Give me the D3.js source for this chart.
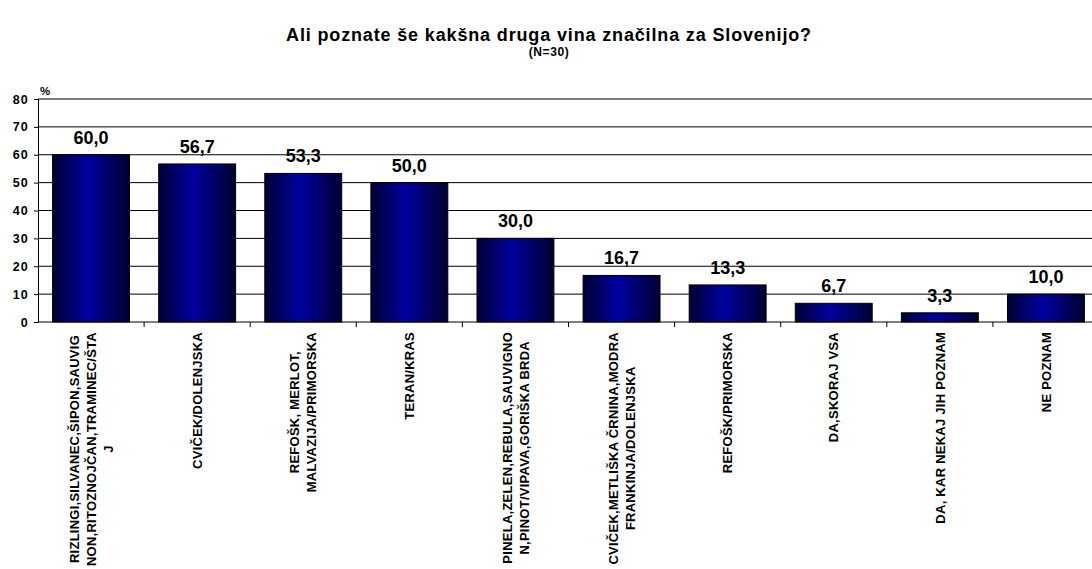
<!DOCTYPE html>
<html>
<head>
<meta charset="utf-8">
<script src="https://cdn.jsdelivr.net/npm/d3@7"></script>
<style>
  body { margin: 0; background: #fff; }
  svg { display: block; font-family: Arial, "Liberation Sans", sans-serif; }
</style>
</head>
<body>
<svg id="chart" width="1092" height="569"></svg>
<script>
const title = "Ali poznate še kakšna druga vina značilna za Slovenijo?";
const subtitle = "(N=30)";
const yUnit = "%";
const categories = [
  "RIZLINGI,SILVANEC,ŠIPON,SAUVIG\nNON,RITOZNOJČAN,TRAMINEC/ŠTA\nJ",
  "CVIČEK/DOLENJSKA",
  "REFOŠK, MERLOT,\nMALVAZIJA/PRIMORSKA",
  "TERAN/KRAS",
  "PINELA,ZELEN,REBULA,SAUVIGNO\nN,PINOT/VIPAVA,GORIŠKA BRDA",
  "CVIČEK,METLIŠKA ČRNINA,MODRA\nFRANKINJA/DOLENJSKA",
  "REFOŠK/PRIMORSKA",
  "DA,SKORAJ VSA",
  "DA, KAR NEKAJ JIH POZNAM",
  "NE POZNAM"
];
const values = [60.0, 56.7, 53.3, 50.0, 30.0, 16.7, 13.3, 6.7, 3.3, 10.0];
const yTicks = [0, 10, 20, 30, 40, 50, 60, 70, 80];

const svg = d3.select("#chart");
const pLeft = 38, pRight = 1099, pTop = 99, pBottom = 322;

const x = d3.scaleBand().domain(d3.range(categories.length)).range([pLeft, pRight])
  .paddingInner(0.275).paddingOuter(0.1375);
const y = d3.scaleLinear().domain([0, 80]).range([pBottom, pTop]);

// gradient
const defs = svg.append("defs");
const grad = defs.append("linearGradient").attr("id", "barGrad")
  .attr("x1", "0").attr("x2", "1").attr("y1", "0").attr("y2", "0");
grad.append("stop").attr("offset", "0%").attr("stop-color", "#000033");
grad.append("stop").attr("offset", "45%").attr("stop-color", "#0000a0");
grad.append("stop").attr("offset", "100%").attr("stop-color", "#000030");

// gridlines
svg.append("g").selectAll("line").data(yTicks.filter(d => d > 0)).join("line")
  .attr("x1", pLeft).attr("x2", 1092)
  .attr("y1", d => y(d)).attr("y2", d => y(d))
  .attr("stroke", "#000").attr("stroke-width", 1);

// bars
svg.append("g").selectAll("rect").data(values).join("rect")
  .attr("x", (d, i) => x(i)).attr("width", x.bandwidth())
  .attr("y", d => y(d)).attr("height", d => y(0) - y(d))
  .attr("fill", "url(#barGrad)")
  .attr("stroke", "#000").attr("stroke-width", 1);

// value labels
svg.append("g").selectAll("text").data(values).join("text")
  .attr("x", (d, i) => x(i) + x.bandwidth() / 2)
  .attr("y", d => y(d) - 11)
  .attr("text-anchor", "middle")
  .attr("font-size", 18).attr("font-weight", "bold").attr("fill", "#000")
  .text(d => d3.format(".1f")(d).replace(".", ","));

// y axis
const yAxis = d3.axisLeft(y).tickValues(yTicks).tickSize(4).tickPadding(5).tickFormat(d3.format("d"));
const gy = svg.append("g").attr("transform", `translate(${pLeft},0)`).call(yAxis);
gy.select(".domain").attr("stroke", "#000");
gy.selectAll(".tick line").attr("stroke", "#000");
gy.selectAll(".tick text").attr("font-size", 12.5).attr("font-weight", "bold")
  .attr("letter-spacing", 1.2)
  .attr("font-family", "Arial, 'Liberation Sans', sans-serif").attr("fill", "#000");

// x axis line and ticks at category boundaries
svg.append("line").attr("x1", pLeft).attr("x2", 1092).attr("y1", pBottom).attr("y2", pBottom)
  .attr("stroke", "#000");
svg.append("g").selectAll("line").data(d3.range(1, categories.length)).join("line")
  .attr("x1", i => x(i) - x.step() * x.paddingInner() / 2)
  .attr("x2", i => x(i) - x.step() * x.paddingInner() / 2)
  .attr("y1", pBottom).attr("y2", pBottom + 5)
  .attr("stroke", "#000");

// x labels (rotated, multi-line centered, block top-anchored)
const lh = 17;
const lab = svg.append("g").selectAll("g").data(categories).join("g")
  .attr("transform", (d, i) => `translate(${x(i) + x.bandwidth() / 2},332) rotate(-90)`);
lab.each(function(d) {
  const g = d3.select(this);
  const lines = d.split("\n");
  const texts = lines.map((ln, k) => g.append("text")
    .attr("text-anchor", "middle")
    .attr("font-size", 13).attr("font-weight", "bold").attr("fill", "#000")
    .attr("letter-spacing", 0.25)
    .attr("y", (k - (lines.length - 1) / 2) * lh)
    .attr("dy", "0.36em")
    .text(ln));
  const maxW = d3.max(texts, t => t.node().getComputedTextLength());
  texts.forEach(t => t.attr("x", -maxW / 2));
});

// titles
svg.append("text").attr("x", 549).attr("y", 41).attr("text-anchor", "middle")
  .attr("font-size", 18).attr("font-weight", "bold").attr("letter-spacing", 0.85).text(title);
svg.append("text").attr("x", 549).attr("y", 56).attr("text-anchor", "middle")
  .attr("font-size", 12).attr("font-weight", "bold").attr("letter-spacing", 0.6).text(subtitle);
svg.append("text").attr("x", 40).attr("y", 95).attr("text-anchor", "start")
  .attr("font-size", 11.5).attr("font-weight", "bold").text(yUnit);
</script>
</body>
</html>
